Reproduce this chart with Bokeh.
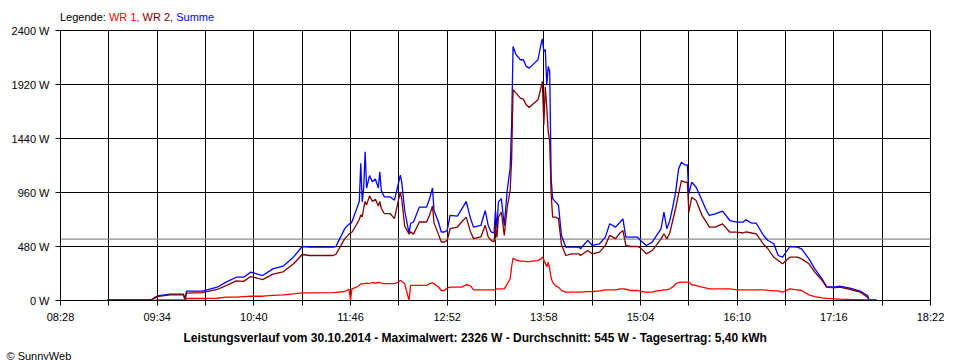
from bokeh.plotting import figure
from bokeh.layouts import column
from bokeh.models import Range1d, FixedTicker, Span, Title, Div
from bokeh.embed import file_html
from bokeh.resources import INLINE

# ---- data ----
times = ["09:00", "09:30", "09:32", "09:35", "09:43", "09:52", "09:53", "09:54", "10:05", "10:08",
         "10:15", "10:21", "10:28", "10:33", "10:38", "10:42", "10:46", "10:53", "11:00", "11:07",
         "11:13", "11:18", "11:34", "11:36", "11:42", "11:45", "11:46", "11:47", "11:50", "11:52",
         "11:53", "11:54", "11:55", "11:56", "11:57", "11:59", "12:01", "12:03", "12:05", "12:06",
         "12:07", "12:09", "12:13", "12:16", "12:18", "12:20", "12:21", "12:23", "12:26", "12:27",
         "12:29", "12:33", "12:38", "12:40", "12:42", "12:43", "12:46", "12:48", "12:50", "12:52",
         "12:54", "12:59", "13:02", "13:05", "13:08", "13:10", "13:15", "13:18", "13:20", "13:22",
         "13:24", "13:25", "13:26", "13:27", "13:29", "13:31", "13:33", "13:35", "13:36", "13:37",
         "13:39", "13:42", "13:44", "13:46", "13:48", "13:50", "13:54", "13:56", "13:57", "13:58",
         "13:59", "14:00", "14:01", "14:02", "14:03", "14:04", "14:06", "14:08", "14:10", "14:13",
         "14:17", "14:22", "14:23", "14:28", "14:31", "14:36", "14:40", "14:43", "14:47", "14:50",
         "14:52", "14:54", "14:57", "15:02", "15:04", "15:08", "15:12", "15:15", "15:18", "15:20",
         "15:22", "15:24", "15:26", "15:28", "15:30", "15:32", "15:34", "15:36", "15:37", "15:39",
         "15:42", "15:46", "15:49", "15:51", "15:55", "16:00", "16:05", "16:10", "16:14", "16:16",
         "16:20", "16:23", "16:28", "16:31", "16:35", "16:38", "16:41", "16:46", "16:51", "16:54",
         "16:59", "17:03", "17:08", "17:11", "17:16", "17:20", "17:27", "17:34", "17:39", "17:40",
         "17:45"]

summe = [5, 5, 25, 44, 56, 56, 5, 83, 83, 95,
         118, 163, 207, 207, 252, 237, 222, 281, 305, 385,
         480, 474, 474, 480, 637, 681, 680, 700, 806, 880,
         1219, 877, 1000, 1323, 1000, 1110, 1055, 1080, 1000, 1144,
         980, 922, 922, 892, 1000, 1115, 1050, 800, 595, 684,
         698, 830, 830, 906, 1000, 800, 700, 609, 609, 623,
         757, 750, 815, 880, 726, 652, 667, 800, 667, 609,
         600, 800, 640, 877, 906, 667, 980, 1174, 1560, 2258,
         2185, 2140, 2140, 2081, 2066, 2090, 2140, 2275, 2326, 2215,
         2230, 1917, 2081, 2036, 1085, 906, 877, 847, 580, 474,
         474, 474, 460, 535, 490, 504, 563, 682, 652, 696,
         726, 563, 563, 563, 533, 489, 519, 578, 637, 785,
         637, 711, 830, 963, 1170, 1230, 1206, 1206, 948, 1052,
         1007, 889, 800, 756, 770, 794, 711, 696, 696, 717,
         687, 687, 578, 533, 504, 400, 385, 480, 474, 459,
         370, 281, 193, 124, 118, 127, 110, 83, 44, 9,
         6]

wr2 = [5, 5, 20, 36, 50, 50, 5, 65, 70, 78,
       98, 133, 175, 170, 213, 200, 185, 235, 255, 325,
       409, 400, 400, 409, 548, 590, 600, 607, 673, 720,
       760, 743, 820, 880, 850, 930, 880, 900, 840, 880,
       820, 773, 773, 728, 847, 966, 900, 660, 590, 610,
       590, 698, 698, 760, 840, 690, 590, 520, 520, 535,
       638, 653, 700, 741, 608, 550, 565, 668, 565, 535,
       520, 668, 560, 741, 787, 579, 830, 980, 1250, 1873,
       1843, 1799, 1790, 1740, 1715, 1740, 1784, 1888, 1947, 1560,
       1900, 1720, 1500, 1412, 950, 741, 741, 728, 500, 400,
       415, 415, 400, 445, 415, 430, 490, 579, 550, 600,
       622, 489, 480, 480, 468, 415, 444, 495, 548, 593,
       548, 600, 711, 820, 948, 1067, 1052, 1052, 785, 918,
       889, 756, 696, 652, 652, 681, 607, 607, 600, 610,
       600, 593, 500, 460, 385, 356, 326, 385, 385, 370,
       326, 252, 178, 118, 113, 118, 100, 74, 30, 6,
       5]

wr1 = [0, 0, 0, 6, 6, 6, 0, 18, 18, 18,
       20, 30, 30, 35, 38, 38, 38, 45, 50, 59,
       68, 68, 70, 72, 80, 100, 0, 104, 118, 133,
       148, 148, 150, 150, 155, 150, 160, 155, 160, 160,
       155, 150, 150, 150, 160, 178, 170, 148, 0, 134,
       134, 134, 134, 150, 157, 150, 120, 89, 89, 110,
       119, 119, 119, 140, 130, 95, 95, 95, 95, 95,
       95, 95, 104, 104, 104, 104, 148, 193, 300, 377,
       360, 350, 350, 345, 345, 350, 355, 370, 386, 360,
       330, 300, 340, 282, 200, 163, 130, 119, 90, 74,
       74, 74, 74, 78, 80, 85, 95, 95, 95, 104,
       104, 100, 89, 89, 80, 74, 74, 85, 89, 95,
       95, 104, 120, 148, 160, 163, 163, 163, 163, 140,
       133, 118, 110, 104, 104, 104, 104, 95, 95, 95,
       95, 95, 95, 90, 85, 85, 74, 104, 95, 89,
       50, 35, 24, 18, 15, 12, 9, 8, 6, 5,
       0]

x_tick_labels = ["08:28", "09:34", "10:40", "11:46", "12:52", "13:58", "15:04", "16:10", "17:16", "18:22"]
y_tick_values = [0, 480, 960, 1440, 1920, 2400]
y_tick_labels = ["0 W", "480 W", "960 W", "1440 W", "1920 W", "2400 W"]
average_w = 545
title_text = "Leistungsverlauf vom 30.10.2014 - Maximalwert: 2326 W - Durchschnitt: 545 W - Tagesertrag: 5,40 kWh"
copyright_text = "\u00a9 SunnyWeb"
legend_texts = ["Legende:", "WR 1,", "WR 2,", "Summe"]
legend_colors = ["#000000", "#FF0000", "#800000", "#0000FF"]


def to_min(s):
    h, m = s.split(":")
    return int(h) * 60 + int(m)


x = [to_min(t) for t in times]
label_mins = [to_min(t) for t in x_tick_labels]
x_start, x_end = label_mins[0], label_mins[-1]
half_step = (label_mins[1] - label_mins[0]) // 2
x_ticks = list(range(x_start, x_end + 1, half_step))
x_overrides = {t: "" for t in x_ticks}
for lab, m in zip(x_tick_labels, label_mins):
    x_overrides[m] = lab
y_overrides = {v: lab for v, lab in zip(y_tick_values, y_tick_labels)}

FONT = "Liberation Sans"

p = figure(frame_width=870, frame_height=270,
           x_range=Range1d(x_start, x_end), y_range=Range1d(0, 2400),
           output_backend="svg", toolbar_location=None, title=None,
           min_border_left=60, min_border_right=20, min_border_top=7, min_border_bottom=3,
           background_fill_color="white", border_fill_color="white", border_fill_alpha=0,
           outline_line_color="black", outline_line_width=1, margin=0)

for ax in (p.xaxis, p.yaxis):
    ax.axis_line_color = "black"
    ax.major_tick_line_color = "black"
    ax.major_tick_in = 0
    ax.major_tick_out = 5
    ax.minor_tick_line_color = None
    ax.major_label_text_font = FONT
    ax.major_label_text_font_size = "11px"
    ax.major_label_text_color = "black"
p.xaxis.major_label_standoff = 5
p.yaxis.major_label_standoff = 6

p.xaxis.ticker = FixedTicker(ticks=x_ticks)
p.xaxis.major_label_overrides = x_overrides
p.yaxis.ticker = FixedTicker(ticks=y_tick_values)
p.yaxis.major_label_overrides = y_overrides

p.xgrid.grid_line_color = "black"
p.ygrid.grid_line_color = "black"
p.xgrid.grid_line_alpha = 1
p.ygrid.grid_line_alpha = 1

p.add_layout(Span(location=average_w, dimension="width", line_color="#8c8c8c",
                  line_width=1.2, level="underlay"))

p.line(x, summe, line_color="#0000FF", line_width=1.3)
p.line(x, wr2, line_color="#800000", line_width=1.3)
p.line(x, wr1, line_color="#FF0000", line_width=1.3)

# bottom texts as titles
p.add_layout(Title(text=title_text, align="left", offset=123, standoff=6,
                   text_color="black", text_font=FONT, text_font_size="12px",
                   text_font_style="bold", text_line_height=1.0), "below")
p.add_layout(Title(text=copyright_text, align="left", offset=-54, standoff=0,
                   text_color="black", text_font=FONT, text_font_size="11px",
                   text_font_style="normal", text_line_height=1.0), "below")

# coloured legend line above the frame
spans = "".join('<span style="color:%s">%s</span> ' % (c, t)
                for t, c in zip(legend_texts, legend_colors))
legend_div = Div(text='<div style="padding:11px 0 0 60px; font-family:\'Liberation Sans\'; '
                      'font-size:11px; line-height:12px; white-space:nowrap;">%s</div>' % spans,
                 width=400, height=23, margin=0)

layout = column(legend_div, p, spacing=0, margin=0)

open("out.html", "w").write(file_html(layout, INLINE))
